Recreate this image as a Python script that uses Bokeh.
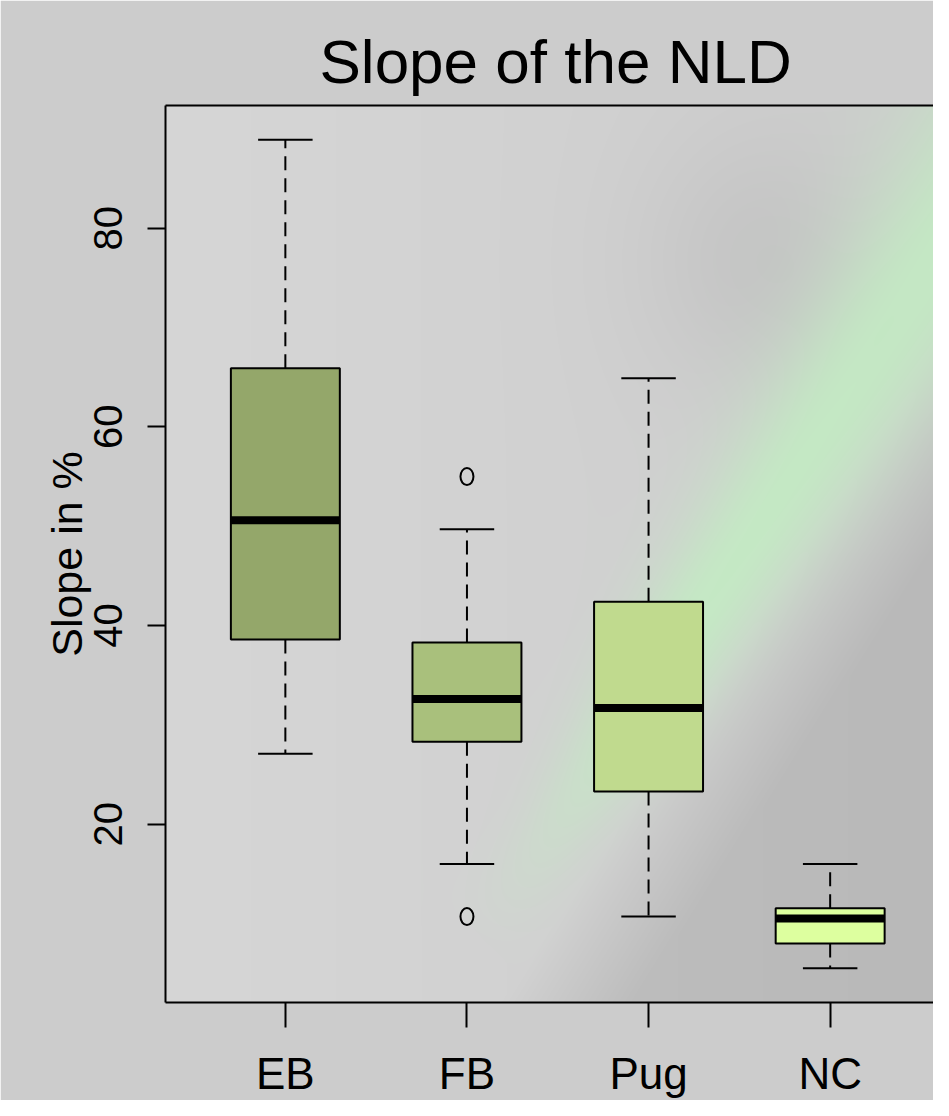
import numpy as np
from bokeh.plotting import figure
from bokeh.models import Range1d, LinearAxis, FixedTicker, ColumnDataSource
from bokeh.embed import file_html
from bokeh.resources import INLINE

# ---- data ----
categories = ["EB", "FB", "Pug", "NC"]
whisker_low = [27.1, 16.0, 10.7, 5.5]
q1 = [38.6, 28.3, 23.3, 8.0]
median = [50.6, 32.6, 31.7, 10.5]
q3 = [65.9, 38.3, 42.4, 11.55]
whisker_high = [88.9, 49.7, 64.9, 16.0]
box_colors = ["#94a76a", "#a9c07c", "#c0da8e", "#ddff9f"]
outlier_group = ["FB", "FB"]
outlier_values = [55.0, 10.7]
y_ticks = [20, 40, 60, 80]

FONT = "Liberation Sans"

positions = [i + 1 for i in range(len(categories))]
half_box = 0.3
half_cap = 0.15

src = ColumnDataSource(dict(
    x=positions,
    left=[x - half_box for x in positions],
    right=[x + half_box for x in positions],
    cap_l=[x - half_cap for x in positions],
    cap_r=[x + half_cap for x in positions],
    lo=whisker_low, q1=q1, med=median, q3=q3, hi=whisker_high,
    color=box_colors,
))
out_x = [positions[categories.index(g)] for g in outlier_group]

W, H = 933, 1100
BL, BT, BB = 165, 105, 97
fw, fh = W - BL, H - BT - BB
x0 = 0.34
x1 = x0 + fw / 181.6
y0, y1 = 2.05, 92.35

p = figure(width=W, height=H, output_backend="svg", toolbar_location=None,
           x_range=Range1d(x0, x1), y_range=Range1d(y0, y1),
           x_axis_location=None, y_axis_location=None,
           min_border_left=BL, min_border_right=0, min_border_top=BT,
           min_border_bottom=BB,
           title="Slope of the NLD")
p.grid.grid_line_color = None
p.outline_line_color = None
p.border_fill_color = "#cccccc"
p.background_fill_color = "#d2d2d2"

# ---- decorative background (grey with a soft green streak) ----
ii, jj = np.meshgrid(np.arange(fw, dtype=float), np.arange(fh, dtype=float))
px = BL + ii
py = BT + jj
ax, ay = 933.0, 262.0
dx, dy = -0.5533, 0.8331
nx, ny = 0.8331, 0.5533
t = (px - ax) * dx + (py - ay) * dy
s = (px - ax) * nx + (py - ay) * ny
w = np.clip(88 - t * 0.07, 40, 110)
fade = np.clip((820 - t) / 320.0, 0, 1)
g = 0.78 * np.exp(-(s / w) ** 2) * fade
base = 214 - 9 * (ii / fw)
dark = np.clip((s - 50) / 110.0, 0, 1) * np.clip((t + 150) / 300.0, 0, 1) * 20
dark2 = np.exp(-(((px - 760) / 120) ** 2 + ((py - 260) / 130) ** 2)) * 10
base = base - dark - dark2
r = base * (1 - g) + 194 * g
gg = base * (1 - g) + 240 * g
b = base * (1 - g) + 194 * g
rgba = np.zeros((fh, fw, 4), dtype=np.uint8)
rgba[..., 0] = np.clip(r, 0, 255)
rgba[..., 1] = np.clip(gg, 0, 255)
rgba[..., 2] = np.clip(b, 0, 255)
rgba[..., 3] = 255
rgba = np.ascontiguousarray(rgba[::-1])
img = rgba.view(dtype=np.uint32).reshape((fh, fw))
p.image_rgba(image=[img], x=x0, y=y0, dw=x1 - x0, dh=y1 - y0)

# ---- boxplot ----
p.segment(x0="x", y0="q3", x1="x", y1="hi", source=src, line_color="black",
          line_width=2, line_dash="14 8")
p.segment(x0="x", y0="q1", x1="x", y1="lo", source=src, line_color="black",
          line_width=2, line_dash="14 8")
p.segment(x0="cap_l", y0="hi", x1="cap_r", y1="hi", source=src,
          line_color="black", line_width=2)
p.segment(x0="cap_l", y0="lo", x1="cap_r", y1="lo", source=src,
          line_color="black", line_width=2)
p.quad(left="left", right="right", bottom="q1", top="q3", source=src,
       fill_color="color", line_color="black", line_width=2)
p.segment(x0="left", y0="med", x1="right", y1="med", source=src,
          line_color="black", line_width=8)
p.ellipse(x=out_x, y=outlier_values, width=13, height=17,
          width_units="screen", height_units="screen",
          fill_color=None, line_color="black", line_width=2)

# ---- axes ----
xaxis = LinearAxis(ticker=FixedTicker(ticks=positions),
                   major_label_overrides={pos: c for pos, c in zip(positions, categories)})
xaxis.major_tick_out = 25
xaxis.major_tick_in = 0
xaxis.minor_tick_out = 0
xaxis.major_tick_line_width = 2
xaxis.axis_line_width = 2
xaxis.major_label_text_font = FONT
xaxis.major_label_text_font_size = "44px"
xaxis.major_label_text_color = "black"
xaxis.major_label_standoff = 21
p.add_layout(xaxis, "below")

yaxis = LinearAxis(ticker=FixedTicker(ticks=y_ticks), axis_label="Slope in %")
yaxis.major_tick_out = 18
yaxis.major_tick_in = 0
yaxis.minor_tick_out = 0
yaxis.major_tick_line_width = 2
yaxis.axis_line_width = 2
yaxis.major_label_orientation = "vertical"
yaxis.major_label_text_font = FONT
yaxis.major_label_text_font_size = "40px"
yaxis.major_label_text_color = "black"
yaxis.major_label_standoff = 25
yaxis.axis_label_text_font = FONT
yaxis.axis_label_text_font_size = "43px"
yaxis.axis_label_text_font_style = "normal"
yaxis.axis_label_text_color = "black"
yaxis.axis_label_standoff = 1
p.add_layout(yaxis, "left")

top = LinearAxis(ticker=FixedTicker(ticks=[]))
top.major_tick_out = 0
top.major_tick_in = 0
top.minor_tick_out = 0
top.axis_line_width = 2
top.major_label_text_font_size = "0px"
p.add_layout(top, "above")

p.title.text_font = FONT
p.title.text_font_size = "62px"
p.title.text_font_style = "normal"
p.title.text_color = "black"
p.title.align = "left"
p.title.offset = 154
p.title.standoff = 20

open("out.html", "w").write(file_html(p, INLINE))
